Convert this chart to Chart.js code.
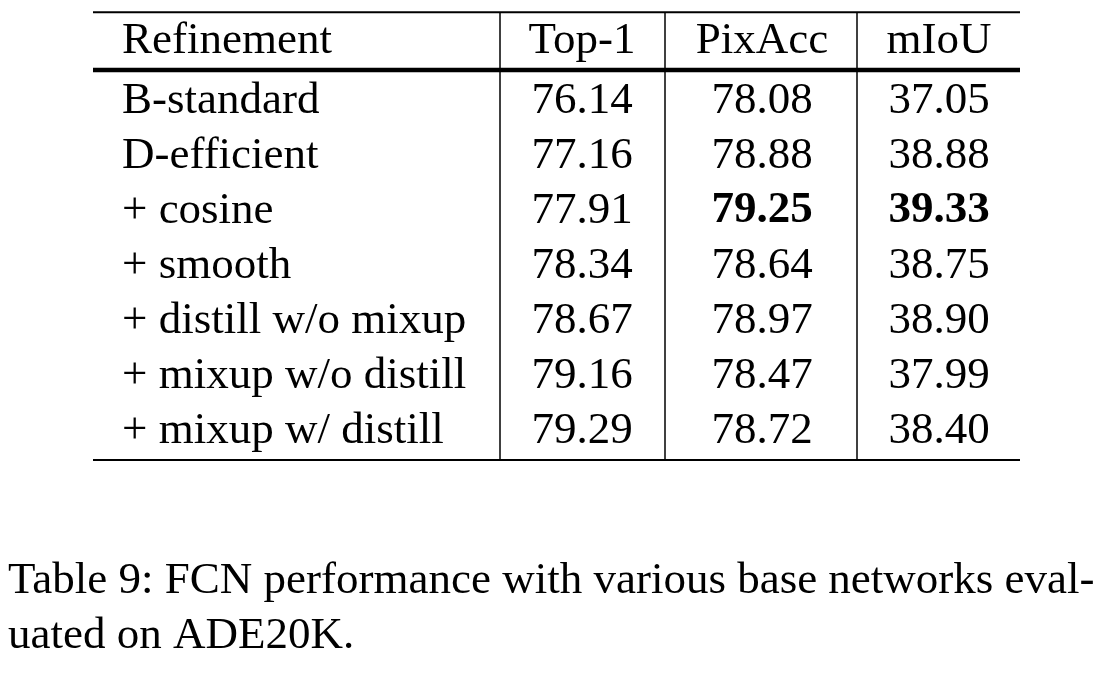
<!DOCTYPE html>
<html>
<head>
<meta charset="utf-8">
<script src="https://cdn.jsdelivr.net/npm/chart.js@4"></script>
<style>
  html, body { margin: 0; padding: 0; background: #fff; }
  #wrap { width: 1102px; height: 688px; }
</style>
</head>
<body>
<div id="wrap"><canvas id="table-chart"></canvas></div>
<script>
// Table data
const headers = ['Refinement', 'Top-1', 'PixAcc', 'mIoU'];
const refinements = ['B-standard', 'D-efficient', '+ cosine', '+ smooth',
  '+ distill w/o mixup', '+ mixup w/o distill', '+ mixup w/ distill'];
const top1 = [76.14, 77.16, 77.91, 78.34, 78.67, 79.16, 79.29];
const pixAcc = [78.08, 78.88, 79.25, 78.64, 78.97, 78.47, 78.72];
const mIoU = [37.05, 38.88, 39.33, 38.75, 38.90, 37.99, 38.40];
const boldCells = [[2, 2], [2, 3]]; // [row, column]
const caption = ['Table 9: FCN performance with various base networks eval-',
  'uated on ADE20K.'];

// Layout (x in page units, y in row units)
const colX = [122, 582, 762, 939];
const colAlign = ['left', 'center', 'center', 'center'];
const vLines = [500, 665, 857];
const tableLeft = 93, tableRight = 1020;
const headerRow = -1.09;
const topRule = -1.56, midRule = -0.51, bottomRule = 6.58;
const captionRows = [8.78, 9.78];
const textShift = 0.05;
const FONT = '"Liberation Serif", "DejaVu Serif", serif';

const tablePlugin = {
  id: 'tableDraw',
  afterDraw(chart) {
    const ctx = chart.ctx;
    const x = chart.scales.x, y = chart.scales.y;
    const px = v => x.getPixelForValue(v);
    const py = v => y.getPixelForValue(v);
    ctx.save();
    ctx.strokeStyle = '#000';
    ctx.fillStyle = '#000';

    // Horizontal rules
    [[topRule, 2], [midRule, 4.5], [bottomRule, 2]].forEach(([r, w]) => {
      ctx.lineWidth = w;
      ctx.beginPath();
      ctx.moveTo(px(tableLeft), py(r));
      ctx.lineTo(px(tableRight), py(r));
      ctx.stroke();
    });
    // Vertical rules
    ctx.lineWidth = 1.5;
    vLines.forEach(v => {
      ctx.beginPath();
      ctx.moveTo(px(v), py(topRule));
      ctx.lineTo(px(v), py(bottomRule));
      ctx.stroke();
    });

    ctx.textBaseline = 'middle';
    const cell = (text, c, r, bold) => {
      ctx.font = (bold ? 'bold ' : '') + '45px ' + FONT;
      ctx.textAlign = colAlign[c];
      ctx.fillText(text, px(colX[c]), py(r + textShift));
    };
    headers.forEach((h, c) => cell(h, c, headerRow, false));
    const cols = [top1, pixAcc, mIoU];
    refinements.forEach((name, r) => {
      cell(name, 0, r, false);
      cols.forEach((arr, i) => {
        const bold = boldCells.some(b => b[0] === r && b[1] === i + 1);
        cell(arr[r].toFixed(2), i + 1, r, bold);
      });
    });

    // Caption
    ctx.font = '45px ' + FONT;
    ctx.textAlign = 'left';
    caption.forEach((line, i) => ctx.fillText(line, px(8), py(captionRows[i])));
    ctx.restore();
  }
};

new Chart(document.getElementById('table-chart'), {
  type: 'scatter',
  data: { datasets: [{ data: [], pointRadius: 0 }] },
  options: {
    responsive: true,
    maintainAspectRatio: false,
    animation: false,
    devicePixelRatio: 1,
    layout: { padding: 0 },
    plugins: { legend: { display: false }, tooltip: { enabled: false } },
    scales: {
      x: { type: 'linear', display: false, min: 0, max: 1102 },
      y: { type: 'linear', display: false, reverse: true, min: -98 / 55, max: 590 / 55 }
    }
  },
  plugins: [tablePlugin]
});
</script>
</body>
</html>
